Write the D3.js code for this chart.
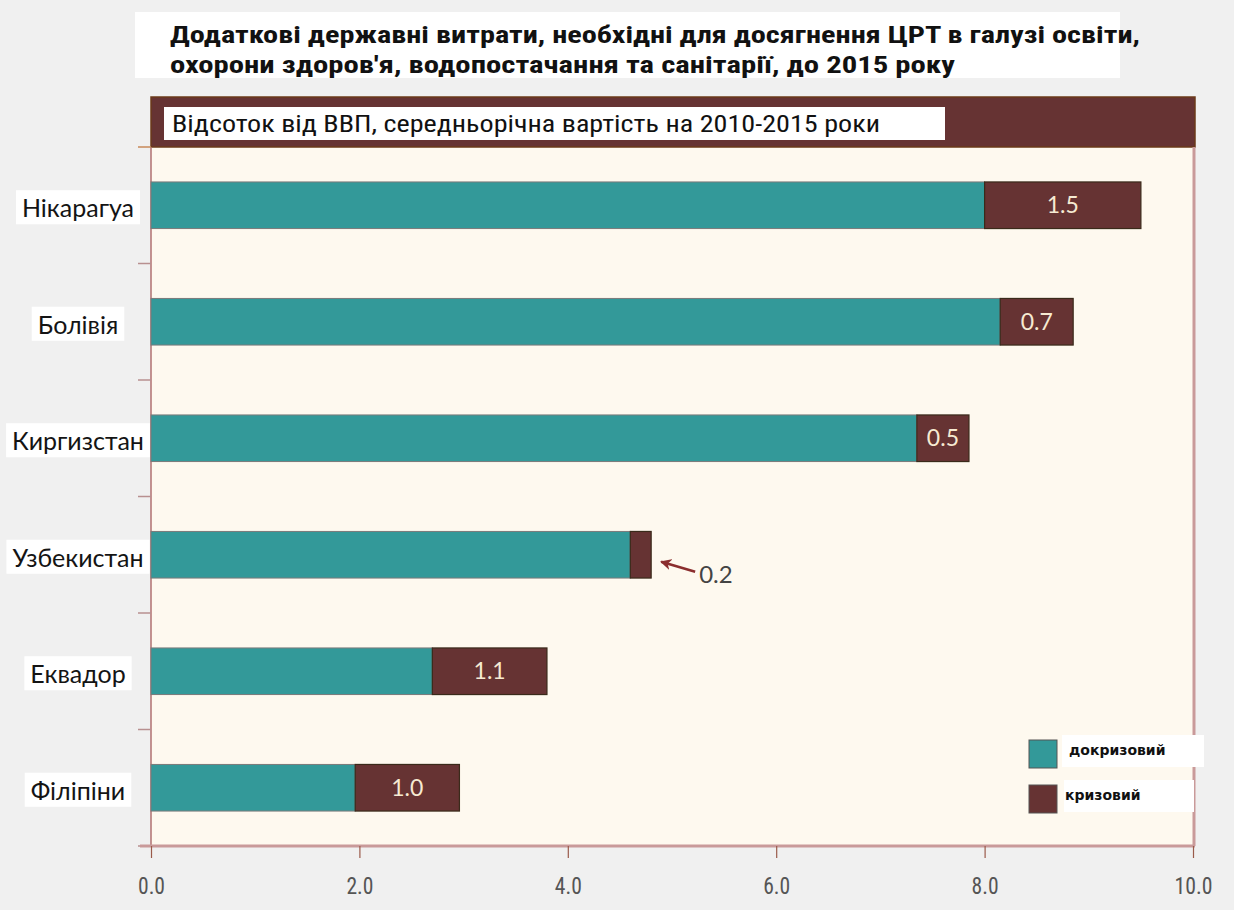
<!DOCTYPE html>
<html>
<head>
  <meta charset="utf-8">
  <script src="https://cdn.jsdelivr.net/npm/d3@7"></script>
  <style>
    body { margin: 0; background: #f0f0f0; }
  </style>
</head>
<body>
  <svg width="1234" height="910" id="mainsvg"></svg>
  <script>
    const countries = ["Нікарагуа", "Болівія", "Киргизстан", "Узбекистан", "Еквадор", "Філіпіни"];
    const preCrisis = [8.0, 8.15, 7.35, 4.6, 2.7, 1.96];
    const crisis = [1.5, 0.7, 0.5, 0.2, 1.1, 1.0];
    const crisisLabels = ["1.5", "0.7", "0.5", "0.2", "1.1", "1.0"];
    const xTicks = [0, 2, 4, 6, 8, 10];
    const seriesNames = ["докризовий", "кризовий"];
    const titleLines = [
      "Додаткові державні витрати, необхідні для досягнення ЦРТ в галузі освіти,",
      "охорони здоров'я, водопостачання та санітарії, до 2015 року"
    ];
    const subtitle = "Відсоток від ВВП, середньорічна вартість на 2010-2015 роки";

    const teal = "#339999", brown = "#663333", axisPink = "#c99a9a";
    const svg = d3.select('svg');
    const left = 151, right = 1193, bandTop = 97, plotTop = 147, plotBottom = 846;

    const x = d3.scaleLinear().domain([0, 10]).range([left, right]);
    const y = d3.scaleBand().domain(countries).range([plotTop, plotBottom])
      .paddingInner(0.6).paddingOuter(0.3);

    // title
    svg.append('rect').attr('x', 135).attr('y', 12).attr('width', 985).attr('height', 66).attr('fill', '#fff');
    const narrow = "'Liberation Sans Narrow', 'Roboto Condensed', 'Liberation Sans', Arial, sans-serif";
    svg.selectAll('.title').data(titleLines).join('text')
      .attr('x', 170).attr('y', (d, i) => 43 + i * 30)
      .attr('font-family', narrow).attr('font-weight', 'bold').attr('font-size', 23)
      .attr('textLength', (d, i) => i === 0 ? 970 : 785).attr('lengthAdjust', 'spacingAndGlyphs')
      .attr('fill', '#111').text(d => d);

    // plot background + header band
    svg.append('rect').attr('x', left).attr('y', plotTop).attr('width', right - left).attr('height', plotBottom - plotTop)
      .attr('fill', '#fef9ef');
    svg.append('rect').attr('x', left).attr('y', bandTop).attr('width', right - left + 2).attr('height', plotTop - bandTop)
      .attr('fill', brown).attr('stroke', '#6b3a1a').attr('stroke-width', 1.5);
    svg.append('rect').attr('x', 164).attr('y', 107).attr('width', 781).attr('height', 33).attr('fill', '#fff');
    svg.append('text').attr('x', 172).attr('y', 132)
      .attr('font-family', narrow).attr('font-size', 23)
      .attr('textLength', 708).attr('lengthAdjust', 'spacingAndGlyphs')
      .attr('fill', '#111').text(subtitle);

    // right border
    svg.append('line').attr('x1', right + 1).attr('x2', right + 1).attr('y1', plotTop).attr('y2', plotBottom)
      .attr('stroke', axisPink).attr('stroke-width', 3);

    // left axis with ticks at band boundaries
    const step = y.step();
    const bounds = d3.range(countries.length + 1).map(i => plotTop + i * step);
    svg.append('line').attr('x1', left).attr('x2', left).attr('y1', plotTop).attr('y2', plotBottom)
      .attr('stroke', '#b07070').attr('stroke-width', 1.5);
    svg.selectAll('.ytick').data(bounds).join('line')
      .attr('x1', 138).attr('x2', left).attr('y1', d => d).attr('y2', d => d)
      .attr('stroke', (d, i) => i === 0 ? '#c98a5a' : '#b89090').attr('stroke-width', 1.5);

    // bars
    const rows = countries.map((c, i) => ({ c, a: preCrisis[i], b: crisis[i], lab: crisisLabels[i] }));
    const g = svg.append('g');
    g.selectAll('.pre').data(rows).join('rect')
      .attr('x', x(0)).attr('y', d => y(d.c)).attr('width', d => x(d.a) - x(0)).attr('height', y.bandwidth())
      .attr('fill', teal).attr('stroke', '#7a7a7a').attr('stroke-width', 1);
    g.selectAll('.cri').data(rows).join('rect')
      .attr('x', d => x(d.a)).attr('y', d => y(d.c)).attr('width', d => x(d.a + d.b) - x(d.a)).attr('height', y.bandwidth())
      .attr('fill', brown).attr('stroke', '#3a2a1a').attr('stroke-width', 1.2);

    const valFont = "Lato, 'Open Sans', sans-serif";
    g.selectAll('.val').data(rows.filter(d => d.b >= 0.4)).join('text')
      .attr('x', d => x(d.a + d.b / 2)).attr('y', d => y(d.c) + y.bandwidth() / 2 + 8)
      .attr('text-anchor', 'middle').attr('font-family', valFont).attr('font-size', 23)
      .attr('fill', '#f6ead2').text(d => d.lab);

    // small value annotation with arrow
    const small = rows.filter(d => d.b < 0.4);
    svg.append('defs').append('marker').attr('id', 'arrow').attr('viewBox', '0 0 10 10')
      .attr('refX', 9).attr('refY', 5).attr('markerWidth', 4.5).attr('markerHeight', 4.5).attr('orient', 'auto')
      .attr('markerUnits', 'strokeWidth')
      .append('path').attr('d', 'M0,0 L10,5 L0,10 L3,5 Z').attr('fill', '#8b2e2e');
    small.forEach(d => {
      const ex = x(d.a + d.b), cy = y(d.c) + y.bandwidth() / 2;
      svg.append('line').attr('x1', ex + 44).attr('y1', cy + 17).attr('x2', ex + 10).attr('y2', cy + 7)
        .attr('stroke', '#8b2e2e').attr('stroke-width', 2.5).attr('marker-end', 'url(#arrow)');
      svg.append('text').attr('x', ex + 48).attr('y', cy + 28).attr('font-family', valFont).attr('font-size', 24)
        .attr('fill', '#444').text(d.lab);
    });

    // country labels
    const labelFont = "Lato, 'Open Sans', sans-serif";
    const labels = svg.append('g');
    rows.forEach(d => {
      const cy = y(d.c) + y.bandwidth() / 2 + 12;
      const t = labels.append('text').attr('x', 78).attr('y', cy).attr('text-anchor', 'middle')
        .attr('font-family', labelFont).attr('font-size', 25).attr('fill', '#141414').text(d.c);
      const bb = t.node().getBBox();
      labels.insert('rect', 'text').attr('x', bb.x - 6).attr('y', bb.y - 2).attr('width', bb.width + 12).attr('height', bb.height + 4)
        .attr('fill', '#fff');
    });

    // x axis
    svg.append('line').attr('x1', 140).attr('x2', right + 2).attr('y1', plotBottom).attr('y2', plotBottom)
      .attr('stroke', axisPink).attr('stroke-width', 3);
    const xAxis = svg.append('g').attr('transform', `translate(0,${plotBottom})`)
      .call(d3.axisBottom(x).tickValues(xTicks).tickSize(12).tickFormat(d3.format('.1f')));
    xAxis.select('.domain').remove();
    xAxis.selectAll('.tick line').attr('stroke', '#9a5a4a').attr('stroke-width', 1.2);
    xAxis.selectAll('.tick text').attr('dy', 0).attr('y', 48)
      .attr('font-family', narrow).attr('font-size', 23).attr('fill', '#555')
      .attr('textLength', d => d >= 10 ? 38 : 27).attr('lengthAdjust', 'spacingAndGlyphs');

    // legend
    const legend = svg.append('g');
    const legY = [740, 785];
    const legFill = [teal, brown];
    legend.selectAll('.lbox').data(seriesNames).join('rect')
      .attr('x', (d, i) => i === 0 ? 1062 : 1064).attr('y', (d, i) => legY[i] - 5).attr('width', (d, i) => i === 0 ? 142 : 130)
      .attr('height', 32).attr('fill', '#fff');
    legend.selectAll('.sw').data(seriesNames).join('rect')
      .attr('x', 1029).attr('y', (d, i) => legY[i]).attr('width', 28).attr('height', 28)
      .attr('fill', (d, i) => legFill[i]).attr('stroke', '#555').attr('stroke-width', 1);
    legend.selectAll('.lt').data(seriesNames).join('text')
      .attr('x', (d, i) => i === 0 ? 1069 : 1065).attr('y', (d, i) => legY[i] + 15)
      .attr('font-family', "'DejaVu Sans', sans-serif").attr('font-size', 14).attr('font-weight', 'bold')
      .attr('fill', '#111').text(d => d);
  </script>
</body>
</html>
